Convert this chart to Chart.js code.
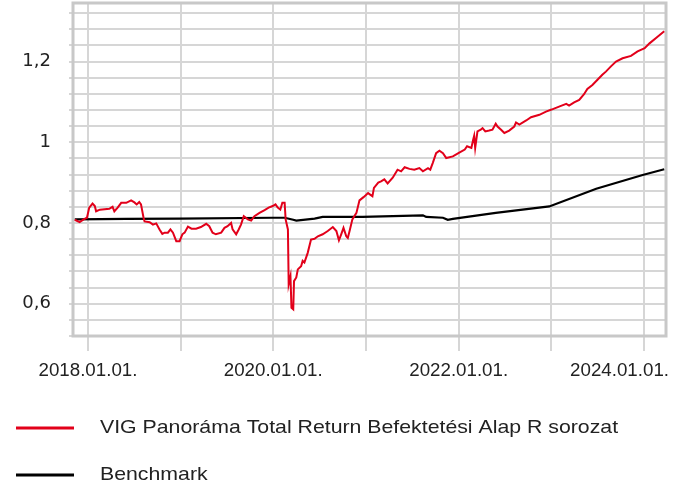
<!DOCTYPE html>
<html><head><meta charset="utf-8">
<script src="https://cdn.jsdelivr.net/npm/chart.js@4.4.1/dist/chart.umd.min.js"></script>
<style>html,body{margin:0;padding:0;background:#fff;overflow:hidden}#wrap{width:679px;height:486px;position:relative}</style>
</head><body><div id="wrap"><canvas id="c" width="679" height="486"></canvas></div>
<script>
const seriesNames = ['VIG Panoráma Total Return Befektetési Alap R sorozat', 'Benchmark'];
const seriesColors = ['#e2001a', '#000000'];

const fundDates = ['2017-11-10','2017-11-29','2017-12-15','2017-12-28','2018-01-06','2018-01-19','2018-01-28','2018-02-02','2018-02-17','2018-03-26','2018-04-08','2018-04-15','2018-04-28','2018-05-12','2018-06-01','2018-06-20','2018-07-03','2018-07-12','2018-07-22','2018-07-29','2018-08-08','2018-08-12','2018-09-01','2018-09-14','2018-09-27','2018-10-10','2018-10-21','2018-10-30','2018-11-12','2018-11-22','2018-12-02','2018-12-15','2018-12-28','2019-01-08','2019-01-17','2019-01-30','2019-02-13','2019-03-03','2019-03-22','2019-04-12','2019-04-24','2019-05-07','2019-05-20','2019-06-10','2019-06-23','2019-07-05','2019-07-19','2019-07-25','2019-08-08','2019-08-18','2019-08-27','2019-09-07','2019-09-23','2019-10-06','2019-10-19','2019-11-08','2019-11-28','2019-12-14','2019-12-30','2020-01-10','2020-01-19','2020-01-29','2020-02-06','2020-02-15','2020-02-19','2020-02-28','2020-03-02','2020-03-09','2020-03-13','2020-03-20','2020-03-23','2020-04-01','2020-04-07','2020-04-20','2020-04-26','2020-05-03','2020-05-16','2020-05-29','2020-06-12','2020-06-25','2020-07-14','2020-08-03','2020-08-23','2020-09-06','2020-09-16','2020-09-25','2020-10-04','2020-10-15','2020-10-21','2020-10-28','2020-11-08','2020-11-24','2020-12-06','2020-12-22','2021-01-09','2021-01-26','2021-02-01','2021-02-18','2021-03-01','2021-03-14','2021-03-27','2021-04-16','2021-05-05','2021-05-19','2021-06-02','2021-06-21','2021-07-10','2021-07-30','2021-08-13','2021-09-02','2021-09-11','2021-09-21','2021-10-04','2021-10-17','2021-10-31','2021-11-13','2021-12-09','2022-01-05','2022-01-25','2022-02-03','2022-02-20','2022-02-27','2022-03-03','2022-03-07','2022-03-16','2022-03-29','2022-04-05','2022-04-16','2022-05-01','2022-05-14','2022-05-27','2022-06-03','2022-06-17','2022-06-30','2022-07-19','2022-08-08','2022-08-15','2022-08-28','2022-09-24','2022-10-13','2022-11-15','2022-12-11','2023-01-02','2023-02-03','2023-03-01','2023-03-12','2023-04-01','2023-04-21','2023-05-10','2023-05-23','2023-06-12','2023-07-02','2023-07-21','2023-08-04','2023-08-24','2023-09-13','2023-10-09','2023-11-11','2023-12-07','2023-12-20','2024-01-04','2024-01-23','2024-02-19','2024-03-15','2024-03-21'];
const fundValues = [0.808,0.802,0.809,0.813,0.838,0.848,0.842,0.829,0.833,0.835,0.840,0.829,0.838,0.850,0.850,0.856,0.851,0.846,0.852,0.846,0.813,0.804,0.802,0.796,0.799,0.784,0.773,0.776,0.776,0.784,0.776,0.755,0.755,0.772,0.776,0.791,0.786,0.786,0.790,0.798,0.792,0.776,0.772,0.776,0.788,0.792,0.800,0.784,0.772,0.784,0.796,0.817,0.809,0.806,0.817,0.825,0.832,0.838,0.842,0.846,0.838,0.833,0.850,0.850,0.809,0.784,0.648,0.668,0.590,0.586,0.656,0.665,0.685,0.693,0.706,0.702,0.726,0.759,0.761,0.767,0.772,0.780,0.790,0.780,0.757,0.772,0.788,0.767,0.763,0.780,0.809,0.825,0.856,0.864,0.874,0.866,0.887,0.900,0.903,0.908,0.898,0.912,0.932,0.928,0.938,0.934,0.932,0.936,0.928,0.936,0.932,0.949,0.973,0.979,0.973,0.961,0.965,0.975,0.982,0.990,0.986,1.006,1.016,0.986,1.027,1.031,1.035,1.027,1.029,1.031,1.046,1.039,1.031,1.023,1.029,1.039,1.049,1.044,1.054,1.062,1.068,1.076,1.081,1.089,1.095,1.091,1.099,1.105,1.119,1.132,1.142,1.155,1.167,1.175,1.188,1.200,1.208,1.214,1.225,1.229,1.233,1.245,1.259,1.272,1.275];

const benchDates = ['2017-11-10','2018-06-01','2018-12-28','2019-12-30','2020-02-15','2020-03-20','2020-04-01','2020-06-12','2020-07-14','2020-12-18','2021-08-13','2021-08-26','2021-10-31','2021-11-19','2021-12-09','2022-05-27','2022-12-24','2023-06-27','2023-12-27','2024-03-21'];
const benchValues = [0.809,0.810,0.811,0.813,0.813,0.808,0.806,0.811,0.815,0.815,0.819,0.815,0.813,0.808,0.810,0.825,0.841,0.885,0.919,0.933];

const yearTicks = [2018, 2019, 2020, 2021, 2022, 2023, 2024];
const yearTickLabels = ['2018.01.01.', '', '2020.01.01.', '', '2022.01.01.', '', '2024.01.01.'];
const yGridValues = [0.52,0.56,0.60,0.64,0.68,0.72,0.76,0.80,0.84,0.88,0.92,0.96,1.00,1.04,1.08,1.12,1.16,1.20,1.24,1.28,1.32];
const yLabelValues = [0.6, 0.8, 1.0, 1.2];
const yLabelTexts = ['0,6', '0,8', '1', '1,2'];

const toMs = s => { const p = s.split('-').map(Number); return Date.UTC(p[0], p[1] - 1, p[2]); };
const pts = (d, v) => d.map((s, i) => ({ x: toMs(s), y: v[i] }));

const GRID = '#d6d6d6';
const TEXT = '#222222';

const framePlugin = {
  id: 'frame',
  beforeDatasetsDraw(chart) {
    const { ctx, chartArea: a } = chart;
    ctx.save();
    ctx.strokeStyle = '#c8c8c8';
    ctx.lineWidth = 3;
    ctx.strokeRect(a.left, a.top, a.right - a.left, a.bottom - a.top);
    ctx.restore();
  }
};

const xLabelPlugin = {
  id: 'xlabels',
  afterDraw(chart) {
    const { ctx } = chart;
    const xs = chart.scales.x;
    ctx.save();
    ctx.font = '18px "Liberation Sans", Arial, sans-serif';
    ctx.fillStyle = TEXT;
    ctx.textBaseline = 'middle';
    ctx.textAlign = 'left';
    const sx = 1.04;
    yearTicks.forEach((yr, i) => {
      const t = yearTickLabels[i];
      if (!t) return;
      const px = xs.getPixelForValue(Date.UTC(yr, 0, 1));
      const w = ctx.measureText(t).width * sx;
      let left = px - w / 2;
      if (left + w > 669) left = 669 - w;
      ctx.save();
      ctx.translate(left, 371);
      ctx.scale(sx, 1);
      ctx.fillText(t, 0, 0);
      ctx.restore();
    });
    ctx.restore();
  }
};

const legendPlugin = {
  id: 'customLegend',
  afterDraw(chart) {
    const { ctx } = chart;
    const rows = [428, 475];
    const sx = 1.12;
    ctx.save();
    chart.data.datasets.forEach((ds, i) => {
      const y = rows[i];
      ctx.strokeStyle = ds.borderColor;
      ctx.lineWidth = 3;
      ctx.beginPath();
      ctx.moveTo(16, y);
      ctx.lineTo(74, y);
      ctx.stroke();
      ctx.save();
      ctx.font = '19px "Liberation Sans", Arial, sans-serif';
      ctx.fillStyle = TEXT;
      ctx.textBaseline = 'middle';
      ctx.textAlign = 'left';
      ctx.translate(100, y);
      ctx.scale(sx, 1);
      ctx.fillText(ds.label, 0, 0);
      ctx.restore();
    });
    ctx.restore();
  }
};

new Chart(document.getElementById('c'), {
  type: 'line',
  data: {
    datasets: [
      { label: seriesNames[0], data: pts(fundDates, fundValues), borderColor: seriesColors[0], borderWidth: 2, pointRadius: 0, tension: 0, fill: false },
      { label: seriesNames[1], data: pts(benchDates, benchValues), borderColor: seriesColors[1], borderWidth: 2.2, pointRadius: 0, tension: 0, fill: false }
    ]
  },
  options: {
    responsive: false,
    animation: false,
    devicePixelRatio: 1,
    layout: { padding: { left: 0, right: 13, top: 3, bottom: 0 } },
    plugins: { legend: { display: false }, tooltip: { enabled: false } },
    scales: {
      x: {
        type: 'linear',
        min: Date.UTC(2017, 10, 3),
        max: Date.UTC(2024, 2, 28),
        afterBuildTicks: s => { s.ticks = yearTicks.map(y => ({ value: Date.UTC(y, 0, 1) })); },
        afterFit: s => { s.height = 150; s.paddingLeft = 0; s.paddingRight = 0; },
        grid: { color: GRID, lineWidth: 2, tickLength: 15, drawTicks: true },
        border: { display: false },
        ticks: { display: false }
      },
      y: {
        type: 'linear',
        min: 0.52,
        max: 1.345,
        afterBuildTicks: s => { s.ticks = yGridValues.map(v => ({ value: v })); },
        afterFit: s => { s.width = 73; s.paddingTop = 0; s.paddingBottom = 0; },
        grid: { color: GRID, lineWidth: 2, tickLength: 4, drawTicks: true },
        border: { display: false },
        ticks: {
          padding: 18,
          color: TEXT,
          font: { family: '"DejaVu Sans", Verdana, sans-serif', size: 18 },
          autoSkip: false,
          callback: v => {
            const i = yLabelValues.findIndex(l => Math.abs(l - v) < 1e-6);
            return i >= 0 ? yLabelTexts[i] : '';
          }
        }
      }
    }
  },
  plugins: [framePlugin, xLabelPlugin, legendPlugin]
});
</script></body></html>
